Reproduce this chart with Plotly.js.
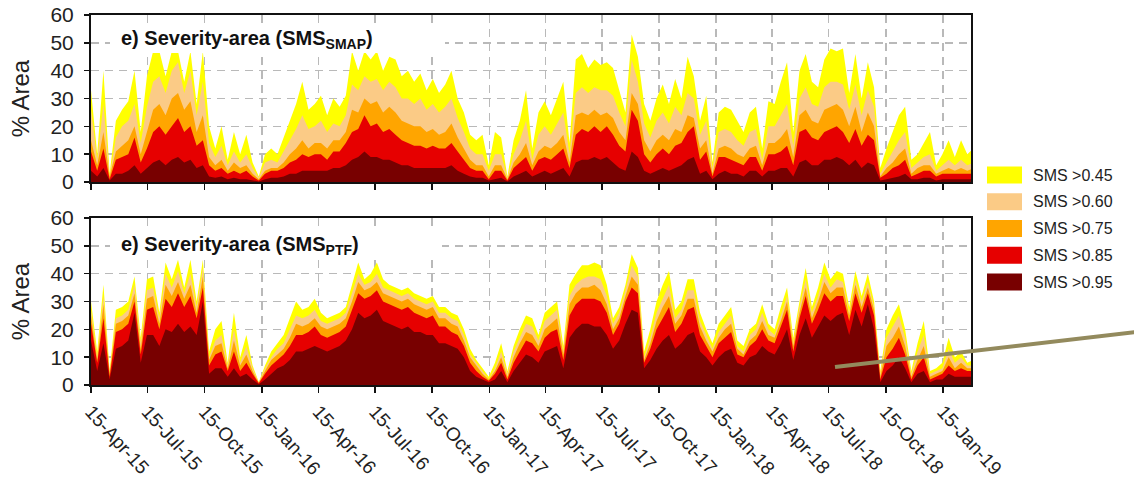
<!DOCTYPE html>
<html>
<head>
<meta charset="utf-8">
<script src="https://cdn.plot.ly/plotly-3.0.1.min.js"></script>
<style>html,body{margin:0;padding:0;background:#fff;}#chart{width:1134px;height:484px;}</style>
</head>
<body>
<div id="chart"></div>
<script>
// ---- DATA (10-day samples from 15-Apr-2015) ----
const startDate = '2015-04-15';
const stepDays = 10;

const seriesNames = ['SMS >0.45', 'SMS >0.60', 'SMS >0.75', 'SMS >0.85', 'SMS >0.95'];
const seriesColors = ['#FFFF00', '#FBCB86', '#FFA500', '#E60000', '#780000'];

// Panel 1: SMS_SMAP (% area exceeding each threshold)
const smap045 = [33,10,40,3,22,26,29,40,18,38,47,47,38,47,47,36,47,28,47,20,12,20,8,18,10,17,7,2,10,12,10,16,22,28,36,26,28,31,24,30,27,31,47,40,47,44,47,40,45,44,38,40,36,39,33,37,32,35,40,30,25,17,15,17,6,18,16,2,15,22,33,12,25,29,24,30,36,14,44,46,41,44,42,43,41,33,25,53,45,28,22,30,35,28,37,30,45,38,22,31,7,25,27,26,22,18,25,27,12,29,28,36,43,18,40,46,36,34,44,48,47,48,32,46,30,43,34,5,12,18,24,27,8,10,14,18,6,10,15,9,15,10,12];
const smap060 = [26,8,28,2,16,20,22,28,14,27,36,38,32,40,43,32,40,24,36,14,9,13,6,11,7,10,5,1.5,7,8,7,11,15,19,24,19,20,22,18,21,20,24,35,33,38,36,37,33,36,34,30,30,28,30,26,28,25,27,30,23,18,12,10,10,4,10,10,1.5,10,15,22,8,17,20,17,21,25,10,32,34,32,34,33,33,31,25,20,44,36,21,16,22,25,21,27,24,32,30,17,22,5,18,19,18,15,13,18,19,8,20,20,24,28,13,30,34,28,27,34,36,36,35,26,35,24,33,27,3,7,11,15,18,5,7,9,10,4,6,8,6,8,6,7];
const smap075 = [15,6,18,2,11,13,15,20,10,18,26,28,24,30,32,26,29,18,24,9,6,8,4,7,5,6,3,1,4,5,5,7,10,12,15,12,14,14,12,15,15,18,26,25,30,28,29,25,27,25,22,21,20,20,18,19,17,18,21,16,12,8,6,6,2,6,6,1,7,10,14,6,11,13,12,14,17,7,24,25,24,26,24,25,23,18,15,32,28,15,11,15,17,15,19,18,24,23,12,15,3,12,13,12,10,9,12,13,6,14,14,16,19,9,24,26,22,21,26,27,28,26,20,27,18,25,20,2,5,7,10,12,3,5,6,6,3,4,5,4,5,4,5];
const smap085 = [11,4,12,1,8,9,10,16,7,12,18,20,17,20,23,18,20,13,15,6,4,5,3,4,3,4,2,0.5,3,4,4,5,7,8,10,9,10,10,8,11,11,14,18,19,24,20,21,18,19,17,15,14,13,13,12,13,12,12,14,11,8,5,4,4,1,4,4,0.5,5,7,9,4,8,9,8,10,12,5,17,19,18,20,18,20,17,13,11,26,22,10,7,10,12,10,13,14,18,20,8,11,2,9,9,8,7,6,9,9,4,10,10,11,13,6,18,19,16,15,18,19,20,18,14,19,13,17,15,1.5,3,5,6,8,2,3,4,4,2,3,3,3,3,3,3];
const smap095 = [4,2,5,0.5,3,3,4,6,3,5,7,8,6,8,9,7,8,5,6,2,1.5,2,1,1.5,1,1,0.5,0.2,1,1.5,1.5,2,3,3,4,4,4,4,4,5,5,6,8,9,11,9,9,8,8,7,6,6,5,5,5,5,5,5,6,4,3,2,1.5,1.5,0.5,1,1.5,0.2,2,3,4,2,3,4,3,4,5,2,7,8,8,9,8,9,7,5,4,11,9,4,3,4,5,4,5,6,8,9,3,4,1,3,4,3,3,2,4,4,2,4,4,5,5,2,7,8,6,6,8,8,9,8,6,8,5,7,6,0.5,1,1.5,2,3,1,1,1.5,1.5,0.5,1,1,1,1,1,1];

// Panel 2: SMS_PTF
const ptf045 = [30,12,36,5,27,28,30,39,17,38,39,26,44,38,45,35,45,30,45,12,20,23,8,26,10,18,7,1,7,12,15,18,24,30,27,28,31,26,24,25,26,28,36,44,38,40,44,38,36,35,34,35,33,32,31,32,28,28,26,25,20,13,9,6,3,8,15,5,14,20,25,24,18,26,28,30,14,36,40,43,43,44,43,36,24,28,36,47,42,12,20,30,36,41,27,30,38,38,26,20,15,22,25,28,16,14,20,22,29,22,20,28,35,17,30,42,28,35,44,38,41,40,28,41,32,40,30,5,20,25,29,20,5,15,23,5,6,8,17,10,12,8,9];
const ptf060 = [27,10,32,4,24,25,27,36,15,34,35,24,40,35,41,33,40,28,42,10,16,18,7,20,8,14,6,1,6,10,13,15,20,25,24,25,27,23,22,23,24,26,33,40,36,37,40,35,34,33,32,33,31,30,29,30,26,26,24,23,18,11,8,5,2,6,12,4,12,17,22,21,16,23,25,27,12,32,36,38,39,39,38,32,22,26,34,43,39,10,17,26,31,36,24,27,34,34,23,18,13,19,22,25,14,12,18,20,26,20,18,25,32,15,28,38,26,32,40,35,38,37,26,38,30,37,28,4,17,21,25,17,4,12,18,4,5,6,13,8,10,7,7];
const ptf075 = [25,9,29,4,22,23,25,33,13,31,32,22,36,32,37,31,36,26,39,9,14,15,6,16,7,11,5,0.8,5,9,11,13,17,22,21,22,24,21,20,21,22,24,30,37,34,35,37,33,32,31,30,31,29,28,27,28,24,24,22,21,16,10,7,4,2,5,10,3,10,15,19,18,14,20,22,24,11,29,33,35,35,36,34,29,20,24,32,39,36,9,15,23,28,32,22,25,31,31,21,16,12,17,20,22,13,11,16,18,23,18,17,23,30,14,26,35,24,30,37,33,35,35,25,36,28,35,27,3,14,17,21,14,3,9,14,3,4,5,10,6,8,6,6];
const ptf085 = [22,8,24,3,19,20,22,30,11,27,28,20,31,28,33,28,32,24,35,7,11,12,5,12,5,8,4,0.6,4,7,9,11,14,18,18,19,21,18,17,18,19,21,27,33,31,32,34,30,29,28,27,28,26,25,24,25,21,21,19,18,14,8,5,3,1.5,4,8,2,8,12,16,15,12,17,19,20,9,25,29,31,31,31,30,26,18,22,30,35,33,8,13,20,24,28,19,22,27,28,18,14,10,15,17,19,11,10,14,16,20,16,15,21,27,12,24,32,22,27,33,30,32,32,23,33,26,33,25,2,10,13,17,11,2,7,10,2,3,4,7,5,6,5,5];
const ptf095 = [16,5,15,2,13,14,16,26,8,18,18,14,20,19,22,19,21,18,30,4,6,6,3,6,3,4,2,0.3,2,4,6,7,9,12,12,13,14,13,12,13,14,16,20,26,24,25,27,23,22,21,20,21,19,19,18,18,15,15,14,13,10,5,3,2,1,2,5,1,5,8,11,10,8,12,13,14,6,17,20,22,22,21,21,18,13,16,22,27,26,6,9,13,16,18,13,15,18,19,12,10,7,10,12,13,8,7,10,11,14,12,11,15,20,9,18,24,17,21,25,23,25,26,18,27,21,29,20,1,5,7,10,6,1,4,5,1,2,2,4,3,3,3,3];

const tickVals = ['2015-04-15','2015-07-15','2015-10-15','2016-01-15','2016-04-15','2016-07-15','2016-10-15','2017-01-15','2017-04-15','2017-07-15','2017-10-15','2018-01-15','2018-04-15','2018-07-15','2018-10-15','2019-01-15'];
const tickText = ['15-Apr-15','15-Jul-15','15-Oct-15','15-Jan-16','15-Apr-16','15-Jul-16','15-Oct-16','15-Jan-17','15-Apr-17','15-Jul-17','15-Oct-17','15-Jan-18','15-Apr-18','15-Jul-18','15-Oct-18','15-Jan-19'];
const xRange = ['2015-04-15', '2019-03-01'];

// ---- BUILD ----
const t0 = Date.parse(startDate + 'T00:00:00Z');
const dates = smap045.map((_, i) => new Date(t0 + i * stepDays * 86400000).toISOString().slice(0, 10));

const FONT = 'Liberation Sans, Arial, sans-serif';
const smapSeries = [smap045, smap060, smap075, smap085, smap095];
const ptfSeries = [ptf045, ptf060, ptf075, ptf085, ptf095];

const traces = [];
smapSeries.forEach((v, k) => traces.push({
  x: dates, y: v, xaxis: 'x', yaxis: 'y', type: 'scatter', mode: 'lines',
  fill: 'tozeroy', fillcolor: seriesColors[k], line: {width: 0, color: seriesColors[k]},
  name: seriesNames[k], showlegend: false, hoverinfo: 'skip'
}));
ptfSeries.forEach((v, k) => traces.push({
  x: dates, y: v, xaxis: 'x2', yaxis: 'y2', type: 'scatter', mode: 'lines',
  fill: 'tozeroy', fillcolor: seriesColors[k], line: {width: 0, color: seriesColors[k]},
  name: seriesNames[k], showlegend: false, hoverinfo: 'skip'
}));

const L = 91, R = 163, T = 15, B = 99;
const W = 1134 - L - R, H = 484 - T - B;
const px = v => (v - L) / W;      // pixel -> paper x
const py = v => (484 - B - v) / H; // pixel -> paper y

const gridCommon = {
  showgrid: true, gridcolor: '#b9b9b9', gridwidth: 1.5, griddash: '8px,6px',
  showline: true, linecolor: '#111', linewidth: 2, mirror: true,
  ticks: 'outside', tickcolor: '#111', ticklen: 6, tickwidth: 1.5, zeroline: false
};
const xCommon = Object.assign({}, gridCommon, {
  type: 'date', range: xRange, tickmode: 'array', tickvals: tickVals, ticktext: tickText
});
const yCommon = Object.assign({}, gridCommon, {
  range: [0, 60], dtick: 10, tick0: 0, ticklen: 5,
  tickfont: {family: FONT, size: 21, color: '#222'}, ticklabelstandoff: 6,
  title: {text: '% Area', font: {family: FONT, size: 24, color: '#222'}, standoff: 14}
});

const shapes = [
  // white boxes behind the panel titles
  {type: 'rect', xref: 'paper', yref: 'paper', x0: px(110), x1: px(445), y0: py(53), y1: py(25), fillcolor: '#fff', line: {width: 0}, layer: 'above'},
  {type: 'rect', xref: 'paper', yref: 'paper', x0: px(110), x1: px(442), y0: py(258), y1: py(232), fillcolor: '#fff', line: {width: 0}, layer: 'above'},
  // pointer line
  {type: 'line', xref: 'paper', yref: 'paper', x0: px(835), y0: py(367), x1: px(1136), y1: py(332), line: {color: '#938a5d', width: 4}, layer: 'above'}
];
const annotations = [
  {xref: 'paper', yref: 'paper', x: px(119), y: py(39), xanchor: 'left', yanchor: 'middle', showarrow: false,
   text: '<b>e) Severity-area (SMS<sub>SMAP</sub>)</b>', font: {family: FONT, size: 20, color: '#111'}},
  {xref: 'paper', yref: 'paper', x: px(119), y: py(245), xanchor: 'left', yanchor: 'middle', showarrow: false,
   text: '<b>e) Severity-area (SMS<sub>PTF</sub>)</b>', font: {family: FONT, size: 20, color: '#111'}}
];
// manual legend
const legTop = 175, legStep = 26.75;
seriesNames.forEach((nm, k) => {
  const cy = legTop + k * legStep;
  shapes.push({type: 'rect', xref: 'paper', yref: 'paper', x0: px(987), x1: px(1022), y0: py(cy + 8.5), y1: py(cy - 8.5),
    fillcolor: seriesColors[k], line: {width: 0}});
  annotations.push({xref: 'paper', yref: 'paper', x: px(1031), y: py(cy), xanchor: 'left', yanchor: 'middle', showarrow: false,
    text: nm, font: {family: FONT, size: 16, color: '#222'}});
});

const layout = {
  width: 1134, height: 484,
  margin: {l: L, r: R, t: T, b: B, pad: 0},
  paper_bgcolor: '#fff', plot_bgcolor: '#fff',
  showlegend: false,
  xaxis: Object.assign({}, xCommon, {anchor: 'y', showticklabels: false, matches: 'x2'}),
  yaxis: Object.assign({}, yCommon, {domain: [py(182), 1]}),
  xaxis2: Object.assign({}, xCommon, {anchor: 'y2', tickangle: 48,
    tickfont: {family: FONT, size: 19, color: '#222'}}),
  yaxis2: Object.assign({}, yCommon, {domain: [0, py(218)]}),
  shapes: shapes,
  annotations: annotations
};

Plotly.newPlot('chart', traces, layout, {displayModeBar: false, staticPlot: true});
</script>
</body>
</html>
